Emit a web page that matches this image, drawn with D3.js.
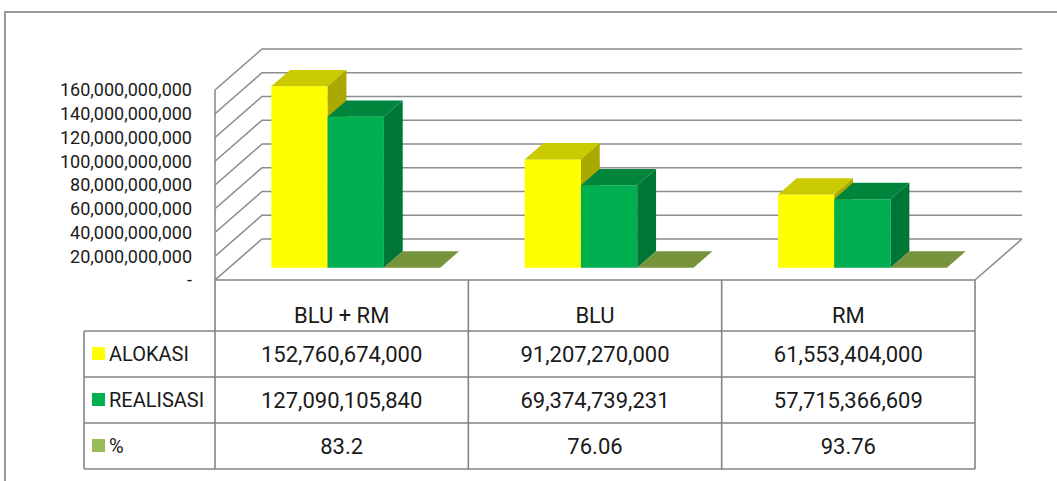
<!DOCTYPE html>
<html>
<head>
<meta charset="utf-8">
<script src="https://cdnjs.cloudflare.com/ajax/libs/d3/7.8.5/d3.min.js"></script>
<style>
  html, body { margin: 0; padding: 0; background: #fff; }
  svg { display: block; font-family: Roboto, "Liberation Sans", sans-serif; }
</style>
</head>
<body>
<div id="chart"></div>
<script>
var categories = ["BLU + RM", "BLU", "RM"];
var seriesNames = ["ALOKASI", "REALISASI", "%"];
var alokasi = [152760674000, 91207270000, 61553404000];
var realisasi = [127090105840, 69374739231, 57715366609];
var persen = [83.2, 76.06, 93.76];
var yTicks = [0, 20e9, 40e9, 60e9, 80e9, 100e9, 120e9, 140e9, 160e9];

var width = 1057, height = 481;
var left = 215, right = 975, base = 280;   // front plane
var DX = 47, DY = 41;                         // depth offset of the walls
var f0 = 0.3, f1 = 0.7;                       // depth span of the bars

var colors = {
  "ALOKASI":   { front: "#ffff00", top: "#caca00", side: "#a9a900", key: "#ffff00" },
  "REALISASI": { front: "#00b050", top: "#00863c", side: "#007634", key: "#00b050" },
  "%":         { front: "#77933c", top: "#77933c", side: "#60782f", key: "#9bbb59" }
};

var svg = d3.select("#chart").append("svg")
  .attr("width", width).attr("height", height);

var y = d3.scaleLinear().domain([0, 160e9]).range([0, 190]);
var x0 = d3.scaleBand().domain(categories).range([left, right]);
var x1 = d3.scaleBand().domain(seriesNames).range([0, x0.bandwidth()])
  .paddingInner(0).paddingOuter(0.75);

function pt(px, v, f) {
  return [px + f * DX, base - f * DY - y(v)];
}

// outer frame
svg.append("path")
  .attr("d", "M5,481 L5,12 L1057,12")
  .attr("fill", "none").attr("stroke", "#9a9a9a").attr("stroke-width", 2);

var grid = svg.append("g").attr("fill", "none").attr("stroke", "#8c8c8c").attr("stroke-width", 1.6);

// back wall gridlines + side wall diagonals
yTicks.forEach(function(t) {
  var a = pt(left, t, 0), b = pt(left, t, 1), c = pt(right, t, 1);
  grid.append("path").attr("d", "M" + a + "L" + b + "L" + c);
});
// left wall front edge
grid.append("line")
  .attr("x1", left).attr("x2", left)
  .attr("y1", pt(left, 160e9, 0)[1]).attr("y2", base);
// floor right edge
var fr0 = pt(right, 0, 0), fr1 = pt(right, 0, 1);
grid.append("path").attr("d", "M" + fr0 + "L" + fr1);

// y axis labels
svg.append("g").selectAll("text")
  .data(yTicks)
  .enter().append("text")
  .attr("x", 192)
  .attr("y", function(d) { return base - y(d); })
  .attr("dy", "0.36em")
  .attr("text-anchor", "end")
  .attr("font-size", 18)
  .attr("fill", "#1a1a1a")
  .text(function(d) { return d === 0 ? "-" : d3.format(",")(d); });

// bars
var seriesData = { "ALOKASI": alokasi, "REALISASI": realisasi, "%": persen };
var bars = svg.append("g");
categories.forEach(function(cat, i) {
  seriesNames.forEach(function(s) {
    var v = seriesData[s][i];
    var xa = x0(cat) + x1(s), xb = xa + x1.bandwidth();
    var c = colors[s];
    var g = bars.append("g");
    var fa0 = pt(xa, 0, f0), fb0 = pt(xb, 0, f0), fbv = pt(xb, v, f0), fav = pt(xa, v, f0);
    var bav = pt(xa, v, f1), bbv = pt(xb, v, f1), bb0 = pt(xb, 0, f1);
    g.append("path").attr("fill", c.front)
      .attr("d", "M" + fa0 + "L" + fb0 + "L" + fbv + "L" + fav + "Z");
    g.append("path").attr("fill", c.top)
      .attr("d", "M" + fav + "L" + fbv + "L" + bbv + "L" + bav + "Z");
    g.append("path").attr("fill", c.side)
      .attr("d", "M" + fb0 + "L" + bb0 + "L" + bbv + "L" + fbv + "Z");
  });
});

// data table
var rowTop = [280, 331, 377, 423, 469];
var keyLeft = 84;
var tbl = svg.append("g");
var lines = tbl.append("g").attr("stroke", "#848484").attr("stroke-width", 1.6);
lines.append("line").attr("x1", left).attr("x2", right).attr("y1", rowTop[0]).attr("y2", rowTop[0]);
for (var r = 1; r < rowTop.length; r++) {
  lines.append("line").attr("x1", keyLeft).attr("x2", right).attr("y1", rowTop[r]).attr("y2", rowTop[r]);
}
lines.append("line").attr("x1", keyLeft).attr("x2", keyLeft).attr("y1", rowTop[1]).attr("y2", rowTop[4]);
categories.forEach(function(cat) {
  lines.append("line").attr("x1", x0(cat)).attr("x2", x0(cat)).attr("y1", rowTop[0]).attr("y2", rowTop[4]);
});
lines.append("line").attr("x1", right).attr("x2", right).attr("y1", rowTop[0]).attr("y2", rowTop[4]);

// header
tbl.append("g").selectAll("text")
  .data(categories)
  .enter().append("text")
  .attr("x", function(d) { return x0(d) + x0.bandwidth() / 2; })
  .attr("y", 323)
  .attr("text-anchor", "middle")
  .attr("font-size", 22)
  .attr("fill", "#1a1a1a")
  .text(function(d) { return d; });

var fmt = d3.format(",");
var rows = [
  { name: "ALOKASI", vals: alokasi.map(fmt) },
  { name: "REALISASI", vals: realisasi.map(fmt) },
  { name: "%", vals: persen.map(String) }
];
rows.forEach(function(row, ri) {
  var top = rowTop[ri + 1], mid = top + 23;
  tbl.append("rect")
    .attr("x", 92).attr("y", mid - 7)
    .attr("width", 13).attr("height", 13)
    .attr("fill", colors[row.name].key);
  tbl.append("text")
    .attr("x", 109).attr("y", mid + 7)
    .attr("font-size", 20)
    .attr("fill", "#1a1a1a")
    .text(row.name);
  tbl.append("g").selectAll("text")
    .data(row.vals)
    .enter().append("text")
    .attr("x", function(d, i) { return x0(categories[i]) + x0.bandwidth() / 2; })
    .attr("y", mid + 8)
    .attr("text-anchor", "middle")
    .attr("font-size", 22)
    .attr("fill", "#1a1a1a")
    .text(function(d) { return d; });
});
</script>
</body>
</html>
